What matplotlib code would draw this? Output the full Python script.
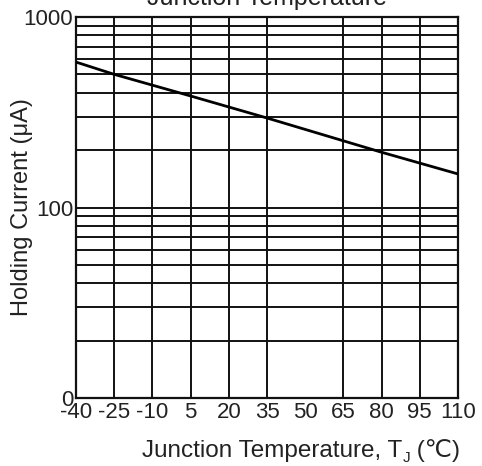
import matplotlib
matplotlib.use("Agg")
import matplotlib.pyplot as plt
from matplotlib.ticker import FixedLocator, FixedFormatter, LogLocator, NullFormatter

plt.rcParams['font.family'] = ['Liberation Sans', 'DejaVu Sans']
plt.rcParams['axes.unicode_minus'] = False

# holding current vs junction temperature
temps = [-40, -25, 5, 35, 80, 110]
current_ua = [580, 500, 385, 295, 195, 150]

xticks = [-40, -25, -10, 5, 20, 35, 50, 65, 80, 95, 110]
xgrid = [-25, -10, 5, 20, 35, 65, 80, 95]   # the scan has no line at 50
yticks = [10, 100, 1000]
ylabels = ['0', '100', '1000']

ink = '#222222'
fig = plt.figure(figsize=(4.82, 4.66), dpi=100)
ax = fig.add_axes([0.1577, 0.1459, 0.7925, 0.8176])

ax.plot(temps, current_ua, color='black', lw=2.0, zorder=3)

ax.set_yscale('log')
ax.set_xlim(-40, 110)
ax.set_ylim(10, 1000)

ax.xaxis.set_major_locator(FixedLocator(xticks))
ax.yaxis.set_major_locator(FixedLocator(yticks))
ax.yaxis.set_major_formatter(FixedFormatter(ylabels))
ax.yaxis.set_minor_locator(LogLocator(base=10, subs=range(2, 10)))
ax.yaxis.set_minor_formatter(NullFormatter())

for t in xgrid:
    ax.axvline(t, color='#111111', lw=1.4, zorder=1)
ax.grid(True, axis='y', which='both', color='#111111', lw=1.4, zorder=1)

ax.tick_params(which='both', length=0, labelsize=16, colors=ink)
ax.tick_params(axis='x', pad=3)
ax.tick_params(axis='y', pad=2)
for s in ax.spines.values():
    s.set_linewidth(1.6)
    s.set_color('#111111')

fig.text(22 / 482, 0.555, 'Holding Current (μA)', rotation=90,
         ha='center', va='center', fontsize=17, color=ink)

# x label: "Junction Temperature, T" + subscript J + " (℃)"
t1 = fig.text(142 / 482, 9 / 466, 'Junction Temperature, T', ha='left',
              va='baseline', fontsize=17.5, color=ink)
t2 = ax.annotate('J', xy=(1, 0), xycoords=t1, ha='left', va='baseline',
                 fontsize=11, color=ink, annotation_clip=False)
ax.annotate(' (℃)', xy=(1, 0), xycoords=(t2, t1), ha='left', va='bottom',
            fontsize=17.5, color=ink, annotation_clip=False)

fig.text(0.554, 1 - 5 / 466, 'Junction Temperature', ha='center',
         va='baseline', fontsize=18, color=ink)

fig.savefig('out.png', dpi=100)
